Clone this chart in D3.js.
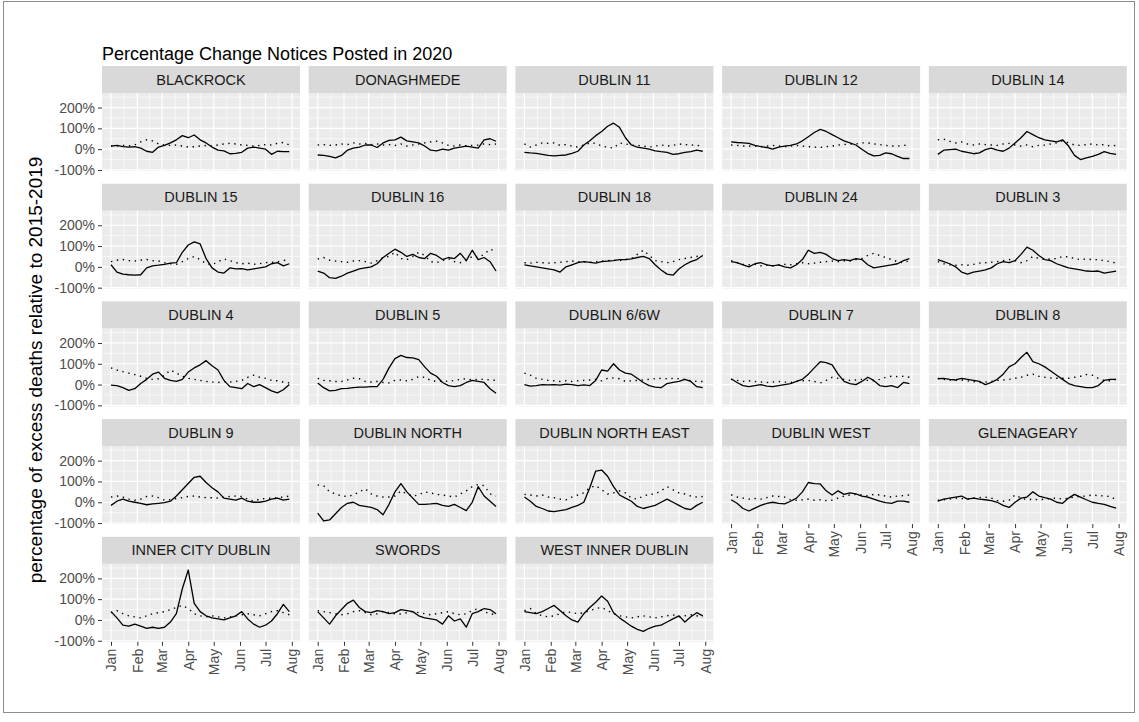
<!DOCTYPE html>
<html>
<head>
<meta charset="utf-8">
<script src="https://cdn.jsdelivr.net/npm/d3@7"></script>
<style>
  body { margin: 0; background: #fff; }
  text { font-family: "Liberation Sans", Arial, sans-serif; }
</style>
</head>
<body>
<div id="chart"></div>
<script>
(function () {

/* data */
  var areas = ["BLACKROCK", "DONAGHMEDE", "DUBLIN 11", "DUBLIN 12", "DUBLIN 14",
    "DUBLIN 15", "DUBLIN 16", "DUBLIN 18", "DUBLIN 24", "DUBLIN 3",
    "DUBLIN 4", "DUBLIN 5", "DUBLIN 6/6W", "DUBLIN 7", "DUBLIN 8",
    "DUBLIN 9", "DUBLIN NORTH", "DUBLIN NORTH EAST", "DUBLIN WEST", "GLENAGEARY",
    "INNER CITY DUBLIN", "SWORDS", "WEST INNER DUBLIN"]

  // one reading per week
  var weekDates = ["2020-01-01", "2020-01-08", "2020-01-15", "2020-01-22", "2020-01-29",
    "2020-02-05", "2020-02-12", "2020-02-19", "2020-02-26",
    "2020-03-04", "2020-03-11", "2020-03-18", "2020-03-25",
    "2020-04-01", "2020-04-08", "2020-04-15", "2020-04-22", "2020-04-29",
    "2020-05-06", "2020-05-13", "2020-05-20", "2020-05-27",
    "2020-06-03", "2020-06-10", "2020-06-17", "2020-06-24",
    "2020-07-01", "2020-07-08", "2020-07-15", "2020-07-22", "2020-07-29"]

  // % change of notices in 2020 (solid line)
  var change2020 = [
    [15,18,12,10,12,5,-10,-15,10,18,30,45,65,55,68,45,30,10,-5,-8,-22,-20,-15,5,10,5,0,-25,-10,-12,-12],
    [-28,-30,-35,-42,-30,-5,5,10,20,20,8,30,42,45,58,40,35,30,15,-5,-8,0,-5,5,10,15,10,5,45,50,38],
    [-15,-18,-20,-25,-30,-32,-30,-28,-20,-10,20,40,65,85,110,125,105,55,20,10,5,0,-8,-12,-15,-25,-22,-15,-12,-5,-10],
    [35,32,30,28,18,12,8,0,10,15,18,25,40,60,80,95,85,70,55,40,30,20,0,-20,-32,-30,-18,-22,-35,-45,-45],
    [-25,-5,-2,0,-10,-15,-22,-18,-2,5,-5,-10,5,30,55,85,70,55,45,40,35,45,15,-30,-50,-42,-35,-25,-12,-20,-25],
    [10,-25,-35,-38,-40,-38,-5,5,8,12,18,20,70,105,120,110,40,-5,-25,-30,-5,-10,-8,-15,-10,-5,0,15,20,5,15],
    [-20,-30,-52,-55,-45,-30,-20,-10,-5,0,15,45,65,85,70,50,60,45,40,65,55,35,45,40,65,30,80,35,45,25,-20],
    [10,5,0,-5,-10,-15,-25,0,10,20,25,22,18,25,28,30,35,35,38,45,50,40,10,-15,-35,-40,-10,10,25,35,55],
    [25,20,10,0,15,20,10,5,10,0,-5,10,35,80,65,70,60,40,30,35,30,40,35,10,-5,0,5,10,15,30,40],
    [35,25,15,0,-25,-35,-25,-20,-15,-5,15,25,20,30,60,95,80,55,35,30,15,5,-5,-10,-15,-20,-22,-20,-30,-25,-20],
    [-3,-5,-15,-28,-20,5,25,50,60,30,20,15,25,60,80,95,115,90,70,20,-10,-15,-20,5,-10,0,-15,-30,-40,-25,0],
    [8,-15,-30,-28,-20,-18,-15,-12,-12,-10,-10,25,80,125,140,130,128,120,85,55,40,10,-5,-10,-5,10,20,15,10,-20,-42],
    [0,-8,-5,0,-2,0,-3,2,0,-5,-2,-5,20,70,65,100,70,55,50,30,10,-5,-12,-15,5,10,15,25,15,-10,-15],
    [28,10,-5,-10,-5,0,-8,-10,-5,0,5,15,25,50,80,110,105,95,50,15,5,0,15,35,20,-5,-10,-5,-15,10,5],
    [28,30,25,22,30,25,20,15,0,10,25,50,85,100,130,155,110,100,85,65,45,25,5,-5,-10,-15,-15,-5,20,25,25],
    [-15,5,15,5,0,-5,-12,-8,-5,-2,5,30,60,90,120,125,95,70,50,20,15,10,20,5,0,0,5,15,20,10,15],
    [-52,-90,-85,-55,-25,-5,0,-15,-20,-25,-35,-60,-10,50,90,50,20,-10,-10,-8,-5,-15,-20,-10,-25,-40,0,75,30,5,-20],
    [25,5,-20,-30,-42,-45,-40,-35,-25,-15,0,70,150,155,125,75,35,20,5,-20,-30,-22,-15,0,15,0,-15,-30,-35,-15,0],
    [12,-5,-30,-42,-28,-15,-5,0,-5,-8,5,20,50,95,90,88,55,35,55,38,45,40,30,25,15,5,-2,-5,5,5,0],
    [5,15,20,25,30,15,20,15,12,8,0,-15,-25,0,20,25,50,30,22,15,0,-5,20,38,25,12,0,-5,-10,-20,-28],
    [40,10,-25,-30,-20,-30,-40,-35,-40,-35,-10,30,150,240,80,40,20,10,5,0,10,20,40,5,-20,-35,-25,-5,30,75,40],
    [40,10,-20,20,50,80,95,60,40,35,45,40,30,35,50,45,40,20,10,5,0,-20,20,-5,5,-35,30,40,55,50,30],
    [40,35,30,40,55,70,45,20,0,-10,30,60,85,115,90,35,10,-10,-30,-45,-55,-40,-30,-25,-10,5,20,-10,15,35,20]
  ]

  // comparison line (dotted)
  var changeBaseline = [
    [15,15,18,15,20,35,45,40,25,20,18,20,15,10,12,15,18,15,20,25,28,25,20,18,15,18,22,20,28,32,20],
    [20,22,18,20,25,22,30,25,28,22,25,20,22,18,25,15,20,25,30,35,38,30,18,15,20,15,18,20,25,22,25],
    [25,10,20,30,28,30,18,22,15,10,20,30,28,15,10,5,30,25,20,18,15,10,15,20,15,18,25,22,20,18,15],
    [20,18,15,15,15,12,15,18,15,12,15,18,15,12,10,8,12,15,20,22,25,25,30,30,25,22,18,15,15,18,20],
    [45,48,38,30,35,25,20,25,22,20,18,25,28,20,15,20,12,18,20,25,30,40,30,20,18,22,25,20,22,15,18],
    [25,32,35,30,28,32,35,30,28,20,15,12,25,40,50,35,15,10,25,38,30,20,15,18,12,15,20,22,25,30,35],
    [38,45,32,28,25,22,28,30,25,18,30,45,50,70,40,35,50,70,55,25,20,30,40,25,20,30,50,45,60,85,75],
    [20,18,22,20,18,20,22,25,28,25,25,22,25,28,30,32,30,35,40,60,80,55,30,25,20,25,35,40,45,50,55],
    [30,20,12,10,12,5,8,5,8,12,10,15,20,15,18,22,25,28,25,30,28,35,40,55,65,55,45,35,25,20,30],
    [25,15,10,8,10,8,12,18,20,22,25,30,35,30,20,30,50,40,35,38,40,50,48,40,35,38,35,35,30,25,18],
    [80,70,62,55,48,40,30,25,28,45,70,55,40,30,25,20,15,12,10,15,12,15,20,35,45,35,30,20,18,12,8],
    [30,20,18,15,15,22,30,28,15,12,15,10,8,20,22,18,25,38,35,20,15,18,15,20,25,28,22,25,25,22,20],
    [55,45,30,25,20,18,15,18,15,18,20,22,25,18,30,32,28,15,18,20,22,25,28,30,28,30,28,25,18,15,15],
    [25,20,15,18,15,12,10,12,15,12,10,15,18,20,15,8,20,35,30,25,20,22,25,20,18,25,35,40,38,40,35],
    [30,25,22,20,22,18,15,10,12,15,20,22,25,30,35,45,50,40,35,32,30,30,30,35,40,48,45,30,20,18,25],
    [25,30,25,15,10,15,28,30,22,10,12,18,22,28,30,25,22,22,20,25,28,30,28,15,5,15,18,20,22,25,30],
    [83,80,50,40,30,28,35,50,65,40,30,25,25,30,55,40,30,35,50,45,38,35,30,25,40,55,75,85,80,40,30],
    [38,35,30,35,25,22,15,12,25,35,45,70,80,60,40,45,55,45,20,15,30,38,40,55,75,60,45,40,30,25,28],
    [36,25,20,15,18,15,22,30,28,25,12,10,12,15,10,12,8,10,20,30,35,38,35,30,38,35,30,25,30,32,35],
    [10,12,15,20,18,15,20,22,25,20,8,5,10,35,20,12,15,12,15,18,20,15,20,25,28,30,35,32,30,28,12],
    [35,45,30,20,15,10,20,30,35,40,50,60,70,55,30,20,15,20,15,10,15,20,25,30,25,20,30,40,45,35,25],
    [45,40,35,30,25,30,40,45,35,25,30,40,35,30,28,35,40,35,30,25,30,35,40,30,25,30,45,55,40,30,25],
    [45,55,30,20,15,20,30,40,35,30,35,45,55,60,45,30,20,15,10,15,20,15,10,15,20,25,15,20,25,20,15]
  ]

  var monthTicks = ["2020-01-01", "2020-02-01", "2020-03-01", "2020-04-01",
    "2020-05-01", "2020-06-01", "2020-07-01", "2020-08-01"]
  var yTicks = [-100, 0, 100, 200]
  var yMinor = [-50, 50, 150, 250]


/* preperation */
  var width = 1139,
      height = 722

  var ncol = 5,
      panelW = 198,
      panelH = 78,
      colStep = 206.7,
      rowStep = 117.7,
      left0 = 102,
      top0 = 93,
      stripH = 27

  var svg = d3.select('#chart')
    .append("svg")
    .attr('width', width)
    .attr('height', height)

  //outer frame
  svg.append("rect")
    .attr("x", 3.5).attr("y", 1.5)
    .attr("width", 1131).attr("height", 711)
    .attr("fill", "#fff")
    .attr("stroke", "#8c8c8c")
    .attr("stroke-width", 1)

  var parse = d3.timeParse("%Y-%m-%d")
  var dates = weekDates.map(parse)
  var months = monthTicks.map(parse)
  var start = parse("2020-01-01"), end = parse("2020-07-31")
  var pad = (end - start) * 0.05

  var x = d3.scaleTime()
    .domain([new Date(+start - pad), new Date(+end + pad)])
    .range([0, panelW])
  var y = d3.scaleLinear().domain([-105, 270]).range([panelH, 0])

  //minor breaks half way between the months
  var monthMinor = d3.pairs(months).map(function (p) {
    return new Date((+p[0] + +p[1]) / 2)
  })

  var line = d3.line()
    .x(function (d) { return x(d.date) })
    .y(function (d) { return y(d.value) })


/* title */
  svg.append("text")
    .attr("x", left0)
    .attr("y", 60)
    .attr("font-size", 18)
    .attr("fill", "#000")
    .text("Percentage Change Notices Posted in 2020")

  svg.append("text")
    .attr("transform", "translate(35,370) rotate(-90)")
    .attr("text-anchor", "middle")
    .attr("dy", "0.35em")
    .attr("font-size", 19)
    .attr("fill", "#000")
    .text("percentage of excess deaths relative to 2015-2019")


/* panels */
  areas.forEach(function (name, i) {
    var col = i % ncol,
        row = Math.floor(i / ncol)
    var g = svg.append("g")
      .attr("transform", "translate(" + (left0 + col * colStep) + "," + (top0 + row * rowStep) + ")")

    g.append("rect")
      .attr("width", panelW).attr("height", panelH)
      .attr("fill", "#EBEBEB")

    //grid
    g.selectAll(".vminor").data(monthMinor).enter().append("line")
      .attr("x1", function (d) { return x(d) }).attr("x2", function (d) { return x(d) })
      .attr("y1", 0).attr("y2", panelH)
      .attr("stroke", "#fff").attr("stroke-width", 0.6)
    g.selectAll(".hminor").data(yMinor).enter().append("line")
      .attr("x1", 0).attr("x2", panelW)
      .attr("y1", function (d) { return y(d) }).attr("y2", function (d) { return y(d) })
      .attr("stroke", "#fff").attr("stroke-width", 0.6)
    g.selectAll(".vmajor").data(months).enter().append("line")
      .attr("x1", function (d) { return x(d) }).attr("x2", function (d) { return x(d) })
      .attr("y1", 0).attr("y2", panelH)
      .attr("stroke", "#fff").attr("stroke-width", 1.2)
    g.selectAll(".hmajor").data(yTicks).enter().append("line")
      .attr("x1", 0).attr("x2", panelW)
      .attr("y1", function (d) { return y(d) }).attr("y2", function (d) { return y(d) })
      .attr("stroke", "#fff").attr("stroke-width", 1.2)

    //strip
    g.append("rect")
      .attr("y", -stripH).attr("width", panelW).attr("height", stripH)
      .attr("fill", "#D9D9D9")
    g.append("text")
      .attr("x", panelW / 2).attr("y", -stripH / 2)
      .attr("dy", "0.35em")
      .attr("text-anchor", "middle")
      .attr("font-size", 14.5)
      .attr("fill", "#1A1A1A")
      .text(name)

    var solid = dates.map(function (d, k) { return { date: d, value: change2020[i][k] } })
    var dotted = dates.map(function (d, k) { return { date: d, value: changeBaseline[i][k] } })

    g.append("path")
      .datum(dotted)
      .attr("d", line)
      .attr("fill", "none")
      .attr("stroke", "#000")
      .attr("stroke-width", 1.4)
      .attr("stroke-dasharray", "1.4,4.6")

    g.append("path")
      .datum(solid)
      .attr("d", line)
      .attr("fill", "none")
      .attr("stroke", "#000")
      .attr("stroke-width", 1.3)
      .attr("stroke-linejoin", "round")

    //y axis only on first column
    if (col === 0) {
      var ya = g.append("g")
        .call(d3.axisLeft(y).tickValues(yTicks)
          .tickFormat(function (d) { return d + "%" })
          .tickSize(4).tickPadding(3))
      ya.select(".domain").remove()
      ya.selectAll("line").attr("stroke", "#333")
      ya.selectAll("text").attr("fill", "#4D4D4D").attr("font-size", 14)
        .attr("font-family", "Liberation Sans, Arial, sans-serif")
    }

    //x axis on the lowest panel of each column
    if (i + ncol >= areas.length) {
      var xa = g.append("g")
        .attr("transform", "translate(0," + panelH + ")")
        .call(d3.axisBottom(x).tickValues(months)
          .tickFormat(d3.timeFormat("%b"))
          .tickSize(4))
      xa.select(".domain").remove()
      xa.selectAll("line").attr("stroke", "#333")
      xa.selectAll("text")
        .attr("fill", "#4D4D4D").attr("font-size", 14)
        .attr("font-family", "Liberation Sans, Arial, sans-serif")
        .attr("transform", "rotate(-90)")
        .attr("text-anchor", "end")
        .attr("x", -7).attr("y", 0)
        .attr("dy", "0.35em")
    }
  })

})()
</script>
</body>
</html>
